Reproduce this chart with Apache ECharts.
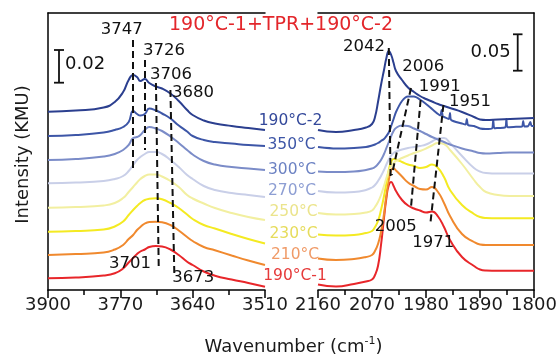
<!DOCTYPE html>
<html>
<head>
<meta charset="utf-8">
<script src="https://cdn.jsdelivr.net/npm/echarts@6/dist/echarts.min.js"></script>
<style>html,body{margin:0;padding:0;background:#fff}#c{width:560px;height:360px}</style>
</head>
<body>
<div id="c"></div>
<script>
// ---------- DATA (stacked intensity, a.u.) ----------
const seriesNames = ['190°C-2', '350°C', '300°C', '270°C', '250°C', '230°C', '210°C', '190°C-1'];
const seriesColors = ['#2b3f8f', '#3d56a7', '#7b8cc8', '#c9cfe8', '#f2efa0', '#f4ea22', '#f0892e', '#e8262a'];
const labelColors = ['#33489a', '#3d56a7', '#6c82c3', '#8d9ed3', '#ebe48c', '#e6dc5c', '#f09b68', '#e63a3a'];

// OH region (left panel)
const wnOH = [3900, 3850, 3800, 3780, 3765, 3755, 3747, 3740, 3734, 3726, 3718, 3706, 3695, 3680, 3665, 3650, 3640, 3620, 3600, 3570, 3540, 3510];
const oh190b = [178.3, 179.5, 182.5, 188, 198, 210, 215, 213, 209, 211, 207, 203.5, 201.5, 196.5, 189, 180, 175, 169.5, 166.5, 164, 162, 160];
const oh350 = [154, 155, 157.5, 160, 163, 168, 179, 176, 174.5, 176, 181.5, 179.5, 176.5, 171.5, 164.5, 158.5, 154, 150, 148, 146.5, 145, 144];
const oh300 = [130, 131, 133.5, 136, 140, 145, 152, 153, 155, 160, 163, 161.5, 159, 153.5, 147, 140, 135.5, 129, 125.5, 123, 121.5, 120];
const oh270 = [106.7, 107.5, 109, 111, 114, 119, 125, 130, 133, 136, 138, 138, 136, 130, 123, 115, 111, 104, 100, 97, 95, 93];
const oh250 = [82.3, 83, 84.5, 87, 92, 98, 103, 107.5, 111, 114, 115.5, 115.5, 113.5, 109, 103, 95, 91.5, 86.5, 82, 77, 73, 70];
const oh230 = [58.3, 59, 60.5, 63.5, 68.5, 75, 80, 84, 87, 90, 91.2, 91.7, 90.7, 87, 82, 75.5, 71, 65, 61.5, 56, 51, 46.5];
const oh210 = [35, 36, 37.5, 40.5, 45, 51, 55, 60, 63, 66.5, 68, 68.3, 67.8, 65, 59.5, 53, 49, 43, 39.7, 34.5, 29.5, 25];
const oh190a = [11.7, 12.5, 14.5, 16.7, 21.5, 27.5, 32, 36, 38.5, 40.5, 43, 44, 43.5, 40.5, 35, 28.3, 25, 18.5, 14.3, 10.5, 7, 3.3];

// CO region (right panel)
const wnCO = [2160, 2130, 2100, 2080, 2070, 2065, 2060, 2055, 2050, 2046, 2042, 2038, 2034, 2030, 2020, 2010, 2000, 1990, 1980, 1970, 1960, 1950, 1940, 1920, 1900, 1890, 1880, 1860, 1840, 1820, 1800];
const co190b = [160, 158, 160, 162.5, 166, 173, 188, 205, 220, 232, 239, 235, 227, 219, 210, 202.5, 198, 194, 191, 188.5, 186, 184, 182, 178, 173, 170.5, 170, 170.5, 171, 171.5, 172];
const co300 = [118.5, 118, 118.5, 120, 121.5, 123, 126, 130, 136, 142, 148, 154, 159, 162, 164.5, 164, 161.5, 159, 156, 153, 150.5, 148, 145.5, 141.5, 138.5, 137, 136.5, 137, 137.5, 137.5, 137.5];
const co270 = [99, 97.5, 98, 100, 102.5, 105, 109, 114, 120, 125.5, 130.5, 134.5, 137, 138.5, 140.5, 142, 143, 144, 145.5, 148.5, 151.5, 152, 147, 134, 122, 118.5, 117, 116.5, 116.5, 116.5, 116.5];
const co250 = [77, 75.5, 76, 77.5, 79.5, 83, 88, 95, 104, 112, 119, 124, 127, 129, 132, 134.5, 137, 139, 141.5, 144.5, 147, 146, 140, 126, 110, 103, 98, 95, 94, 94, 94];
const co230 = [55.5, 54.5, 55, 57, 59, 63, 69, 80, 94, 107, 120, 128, 131, 130.5, 128, 125.5, 124, 122, 123, 125.5, 122, 113, 100, 85, 76, 73, 72, 71.7, 71.7, 71.7, 71.7];
const co210 = [31.5, 30, 31, 33, 35, 39, 46, 58, 76, 95, 110, 120, 121.5, 119.5, 113.5, 107.5, 104, 101, 100.5, 103, 98, 87, 74, 56, 48, 45.5, 45, 45, 45, 45, 45];
const co190a = [5.5, 3.5, 6, 8.5, 10.5, 15, 24, 45, 72, 92, 105, 108, 104, 99, 90, 84.5, 81.5, 79.5, 77.5, 78.5, 73.5, 63, 50, 33, 24, 20.5, 19.5, 19.3, 19.3, 19.3, 19.3];
// 350 °C spectrum is noisy (sharp spikes) below 1960 cm-1, so it has its own, finer wavenumber list
const wnCO350 = [2160, 2130, 2100, 2080, 2070, 2065, 2060, 2055, 2050, 2046, 2042, 2038, 2034, 2030, 2020, 2010, 2000, 1990, 1980, 1970, 1960, 1956, 1954, 1952, 1950, 1942, 1940, 1938, 1920, 1914, 1912, 1910, 1900, 1890, 1880, 1870, 1868, 1866, 1860, 1848, 1846, 1844, 1830, 1820, 1818, 1816, 1810, 1806, 1804, 1800];
const co350 = [143, 141.5, 142, 143, 144.5, 145.5, 147, 149, 151, 154, 157.5, 164, 171, 178, 189, 193.5, 193.5, 190.5, 186, 181, 176, 174.5, 180, 173.5, 173, 171, 177, 170, 166.5, 165.5, 171, 165, 164, 161.5, 161, 161.5, 170, 161.7, 162, 162.6, 171, 162.8, 163.2, 163.5, 169, 163.6, 163.8, 168, 163.9, 164];

// tick values
const ohTicks = [3900, 3770, 3640, 3510];
const coTicks = [2160, 2070, 1980, 1890, 1800];

// dashed peak guide lines: [wnTop, yTop, wnBottom, yBottom]
const ohGuides = [[3747, 250, 3747, 122], [3726, 230, 3726, 140], [3706, 207, 3701, 23], [3680, 200, 3673, 17]];
const coGuides = [[2042, 242, 2039, 112], [2005, 202, 2037, 115], [1989, 190, 2005, 83], [1951, 185, 1973, 65]];
// ------------------------------------------------------

const ohSets = [oh190b, oh350, oh300, oh270, oh250, oh230, oh210, oh190a];
const coSets = [[wnCO, co190b], [wnCO350, co350], [wnCO, co300], [wnCO, co270], [wnCO, co250], [wnCO, co230], [wnCO, co210], [wnCO, co190a]];
const FONT = 'DejaVu Sans';

function guideData(g) {
  return g.map(r => [{coord: [r[0], r[1]]}, {coord: [r[2], r[3]]}]);
}

const series = [];
ohSets.forEach((vals, k) => {
  series.push({
    name: seriesNames[k] + ' OH', type: 'line', xAxisIndex: 0, yAxisIndex: 0,
    data: wnOH.map((w, i) => [w, vals[i]]), showSymbol: false, smooth: 0.5,
    lineStyle: {color: seriesColors[k], width: 2}, itemStyle: {color: seriesColors[k]}, silent: true, z: 2 + (7 - k) * 0.01
  });
});
coSets.forEach((pair, k) => {
  const wn = pair[0], vals = pair[1];
  series.push({
    name: seriesNames[k] + ' CO', type: 'line', xAxisIndex: 1, yAxisIndex: 1,
    data: wn.map((w, i) => [w, vals[i]]), showSymbol: false, smooth: k === 1 ? 0.25 : 0.5,
    lineStyle: {color: seriesColors[k], width: 2}, itemStyle: {color: seriesColors[k]}, silent: true, z: 2 + (7 - k) * 0.01
  });
});
const mlStyle = {silent: true, symbol: ['none', 'none'], label: {show: false}, emphasis: {disabled: true},
  lineStyle: {color: '#111', width: 2, type: [7, 4]}, z: 10};
series.push({type: 'line', xAxisIndex: 0, yAxisIndex: 0, data: [], markLine: Object.assign({data: guideData(ohGuides)}, mlStyle)});
series.push({type: 'line', xAxisIndex: 1, yAxisIndex: 1, data: [], markLine: Object.assign({data: guideData(coGuides)}, mlStyle)});

function bottomAxis(grid, min, max, interval) {
  return {
    type: 'value', gridIndex: grid, min: min, max: max, interval: interval, inverse: true,
    axisLine: {onZero: false, lineStyle: {color: '#000', width: 1.5}},
    axisTick: {length: 8, lineStyle: {color: '#000', width: 1.5}},
    minorTick: {show: true, splitNumber: 2, length: 5, lineStyle: {color: '#000', width: 1.5}},
    axisLabel: {fontSize: 18, color: '#1a1a1a', margin: 6, fontFamily: FONT, formatter: v => String(v)},
    splitLine: {show: false}, minorSplitLine: {show: false}
  };
}
function topAxis(grid, min, max) {
  return {type: 'value', gridIndex: grid, position: 'top', min: min, max: max, inverse: true,
    axisLine: {onZero: false, lineStyle: {color: '#000', width: 1.5}}, axisTick: {show: false},
    axisLabel: {show: false}, splitLine: {show: false}};
}
function sideAxis(grid, pos) {
  return {type: 'value', gridIndex: grid, position: pos, min: 0, max: 277,
    axisLine: {show: true, onZero: false, lineStyle: {color: '#000', width: 1.5}}, axisTick: {show: false},
    axisLabel: {show: false}, splitLine: {show: false}};
}

const labelPos = [[290.5, 120.5], [291.5, 144.7], [292, 169.5], [292, 190.7], [293.5, 212], [293.5, 233.7], [295, 254.7], [295, 276]];
const peakLabels = [
  ['3747', 121.7, 29.5], ['3726', 164, 50.5], ['3706', 171, 75], ['3680', 193, 92.5],
  ['3701', 130, 264], ['3673', 193.3, 277.5],
  ['2042', 364, 46.7], ['2006', 423.3, 67], ['1991', 439.7, 87], ['1951', 470, 101.7],
  ['2005', 395.8, 226.3], ['1971', 433.3, 243]
];

const graphic = [];
seriesNames.forEach((n, k) => {
  graphic.push({type: 'text', x: labelPos[k][0], y: labelPos[k][1], z: 20,
    style: {text: n, fill: labelColors[k], font: '15.5px "DejaVu Sans"', align: 'center', verticalAlign: 'middle'}});
});
peakLabels.forEach(p => {
  graphic.push({type: 'text', x: p[1], y: p[2], z: 20,
    style: {text: p[0], fill: '#111', font: '16.5px "DejaVu Sans"', align: 'center', verticalAlign: 'middle'}});
});
graphic.push({type: 'text', x: 281, y: 25, z: 20,
  style: {text: '190°C-1+TPR+190°C-2', fill: '#e3262b', font: '19px "DejaVu Sans"', align: 'center', verticalAlign: 'middle'}});
graphic.push({type: 'text', x: 23, y: 154.5, rotation: Math.PI / 2, z: 20,
  style: {text: 'Intensity (KMU)', fill: '#1a1a1a', font: '18px "DejaVu Sans"', align: 'center', verticalAlign: 'middle'}});
graphic.push({type: 'text', x: 293.5, y: 347, z: 20,
  style: {text: '{a|Wavenumber (cm}{s|-1}{a|)}', fill: '#1a1a1a', align: 'center', verticalAlign: 'middle',
    rich: {a: {fontSize: 18, fontFamily: FONT, lineHeight: 22, fill: '#1a1a1a'},
           s: {fontSize: 11, fontFamily: FONT, lineHeight: 12, verticalAlign: 'top', fill: '#1a1a1a'}}}});
// scale bars
const barStyle = {stroke: '#111', lineWidth: 1.8};
graphic.push({type: 'line', shape: {x1: 59, y1: 50, x2: 59, y2: 82.7}, style: barStyle, z: 20});
graphic.push({type: 'line', shape: {x1: 54, y1: 50, x2: 64, y2: 50}, style: barStyle, z: 20});
graphic.push({type: 'line', shape: {x1: 54, y1: 82.7, x2: 64, y2: 82.7}, style: barStyle, z: 20});
graphic.push({type: 'text', x: 65, y: 64, z: 20, style: {text: '0.02', fill: '#111', font: '18px "DejaVu Sans"', align: 'left', verticalAlign: 'middle'}});
graphic.push({type: 'line', shape: {x1: 517.7, y1: 34.3, x2: 517.7, y2: 70.7}, style: barStyle, z: 20});
graphic.push({type: 'line', shape: {x1: 513, y1: 34.3, x2: 522.5, y2: 34.3}, style: barStyle, z: 20});
graphic.push({type: 'line', shape: {x1: 513, y1: 70.7, x2: 522.5, y2: 70.7}, style: barStyle, z: 20});
graphic.push({type: 'text', x: 510.7, y: 52, z: 20, style: {text: '0.05', fill: '#111', font: '18px "DejaVu Sans"', align: 'right', verticalAlign: 'middle'}});

const option = {
  animation: false,
  backgroundColor: '#fff',
  textStyle: {fontFamily: FONT},
  grid: [{left: 48, right: 295, top: 13, bottom: 70}, {left: 318, right: 26, top: 13, bottom: 70}],
  xAxis: [bottomAxis(0, ohTicks[3], ohTicks[0], 130), bottomAxis(1, coTicks[4], coTicks[0], 90),
          topAxis(0, ohTicks[3], ohTicks[0]), topAxis(1, coTicks[4], coTicks[0])],
  yAxis: [sideAxis(0, 'left'), sideAxis(1, 'right')],
  series: series,
  graphic: graphic
};
const chart = echarts.init(document.getElementById('c'), null, {renderer: 'canvas'});
chart.setOption(option);
</script>
</body>
</html>
